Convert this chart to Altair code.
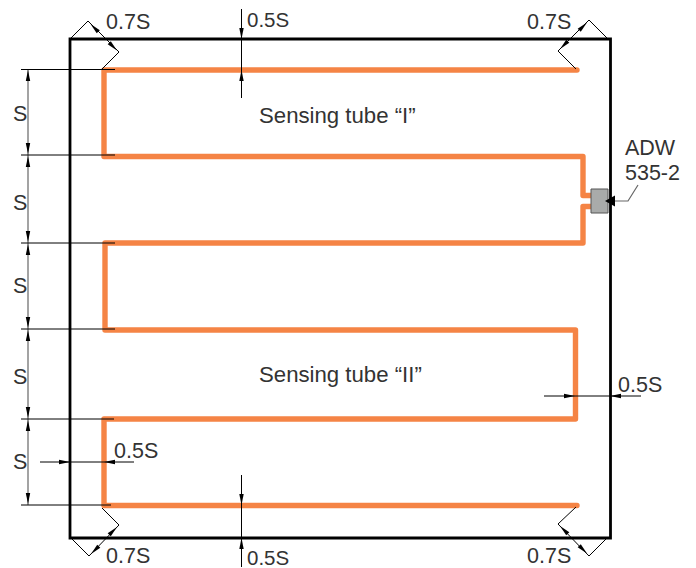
import altair as alt
import pandas as pd

FRAME_X = [70, 610.5, 610.5, 70, 70]
FRAME_Y = [39, 39, 538, 538, 39]

TUBE_X = [577, 104, 104, 583, 583, 591]
TUBE_Y = [70, 70, 156.5, 156.5, 195.5, 195.5]
TUBE2_X = [591, 583, 583, 105, 105, 575.5, 575.5, 104, 104, 577]
TUBE2_Y = [206.5, 206.5, 243, 243, 330, 330, 419, 419, 505.5, 505.5]

THIN_SEGMENTS = [
    # horizontal extension lines for S
    [(21, 69.5), (115, 69.5)], [(21, 155), (115, 155)], [(21, 243), (115, 243)],
    [(21, 329), (115, 329)], [(21, 419), (114, 419)], [(21, 505), (111, 505)],
    # 0.7S corners
    [(71, 38), (88, 21)], [(102, 69), (119, 52)], [(88, 21), (119, 52)],
    [(607, 38), (589, 20)], [(576, 69), (558, 51)], [(589, 20), (558, 51)],
    [(102, 508), (119, 525)], [(72, 539), (89, 556)], [(119, 525), (89, 556)],
    [(576, 507), (558, 524)], [(606, 539), (589, 556)], [(558, 524), (589, 556)],
    # 0.5S dimension lines
    [(241.5, 9), (241.5, 98)], [(241.5, 475), (241.5, 567)],
    [(544, 396), (641, 396)], [(40, 462), (134, 462)],
]
GRAY_SEGMENTS = [
    [(28, 69), (28, 505)],
    [(638, 185), (628, 201), (608, 201)],
]

ARROW_X = [28, 28, 28, 28, 28, 28, 28, 28, 28, 28,
           90.5, 117, 587, 560, 117, 91, 560, 587,
           241.5, 241.5, 241.5, 241.5, 575, 610, 70, 104]
ARROW_Y = [70, 154, 156, 242, 244, 328, 330, 418, 420, 504,
           24, 50.5, 22.5, 49, 527, 554, 526, 553.5,
           39, 70, 505, 538, 396, 396, 462, 462]
ARROW_A = [0, 180, 0, 180, 0, 180, 0, 180, 0, 180,
           315, 135, 45, 225, 45, 225, 315, 135,
           180, 0, 180, 0, 90, 270, 90, 270]

SENSOR = {"x": 591, "x2": 608, "y": 189, "y2": 213}
LEADER_TIP_X, LEADER_TIP_Y = [605], [201]

LABELS = ["0.7S", "0.7S", "0.5S", "0.5S", "0.5S", "0.7S", "0.7S", "0.5S",
          "S", "S", "S", "S", "S", "ADW", "535-2",
          "Sensing tube “I”", "Sensing tube “II”"]
LABEL_X = [106, 527, 247, 618, 114, 106, 527, 247,
           13, 13, 13, 13, 13, 625, 625, 259, 259]
LABEL_Y = [29, 29, 27, 392, 458, 563, 563, 565,
           121, 210, 293, 384, 469, 155, 180, 123, 382]
LABEL_SIZE = [21.5, 21.5, 20.5, 21.5, 21.5, 21.5, 21.5, 20.5,
              21.5, 21.5, 21.5, 21.5, 21.5, 21.5, 21.5, 22.2, 22.2]

x_s = alt.Scale(domain=[8, 688], range=[0, 680])
y_s = alt.Scale(domain=[8, 568], range=[0, 560])
X = alt.X("x:Q", scale=x_s, axis=None)
Y = alt.Y("y:Q", scale=y_s, axis=None)


def path(xs, ys):
    return pd.DataFrame({"x": xs, "y": ys, "o": range(len(xs))})


def segs(segments):
    rows = []
    for i, s in enumerate(segments):
        for j, (px, py) in enumerate(s):
            rows.append({"x": px, "y": py, "o": j, "id": i})
    return pd.DataFrame(rows)


def line(df, color, width, **kw):
    enc = dict(x=X, y=Y, order="o:Q")
    if "id" in df:
        enc["detail"] = "id:N"
    return alt.Chart(df).mark_line(color=color, strokeWidth=width, **kw).encode(**enc)


ARROW = "M0,0L0.2,1L-0.2,1Z"
BIG_ARROW = "M0,0L0.55,1L-0.55,1Z"


def arrows(xs, ys, angles, shape, size):
    df = pd.DataFrame({"x": xs, "y": ys, "a": angles})
    return alt.Chart(df).mark_point(
        shape=shape, filled=True, color="black", opacity=1, size=size, strokeWidth=0
    ).encode(x=X, y=Y, angle=alt.Angle("a:Q", scale=None))


tube1 = line(path(TUBE_X, TUBE_Y), "#f58445", 5.4, strokeJoin="round", strokeCap="round")
tube2 = line(path(TUBE2_X, TUBE2_Y), "#f58445", 5.4, strokeJoin="round", strokeCap="round")
frame = line(path(FRAME_X, FRAME_Y), "black", 2.8, strokeJoin="miter", strokeCap="square")
thin = line(segs(THIN_SEGMENTS), "black", 1)
gray = line(segs(GRAY_SEGMENTS), "#666666", 1.2)
sensor = alt.Chart(pd.DataFrame([SENSOR])).mark_rect(
    fill="#a9abaa", stroke="#555555", strokeWidth=1
).encode(x=X, x2="x2:Q", y=Y, y2="y2:Q")
heads = arrows(ARROW_X, ARROW_Y, ARROW_A, ARROW, 484)
big = arrows(LEADER_TIP_X, LEADER_TIP_Y, [270], BIG_ARROW, 400)
text = alt.Chart(
    pd.DataFrame({"x": LABEL_X, "y": LABEL_Y, "t": LABELS, "s": LABEL_SIZE})
).mark_text(
    align="left", baseline="alphabetic", font="Liberation Sans", color="#333333"
).encode(x=X, y=Y, text="t:N", size=alt.Size("s:Q", scale=None))

chart = alt.layer(tube1, tube2, sensor, frame, gray, thin, heads, big, text).properties(
    width=680, height=560, padding=0, autosize=alt.AutoSizeParams(type="none")
).configure_view(stroke=None)

chart.save("out.html", embed_options={"renderer": "svg", "actions": False})
